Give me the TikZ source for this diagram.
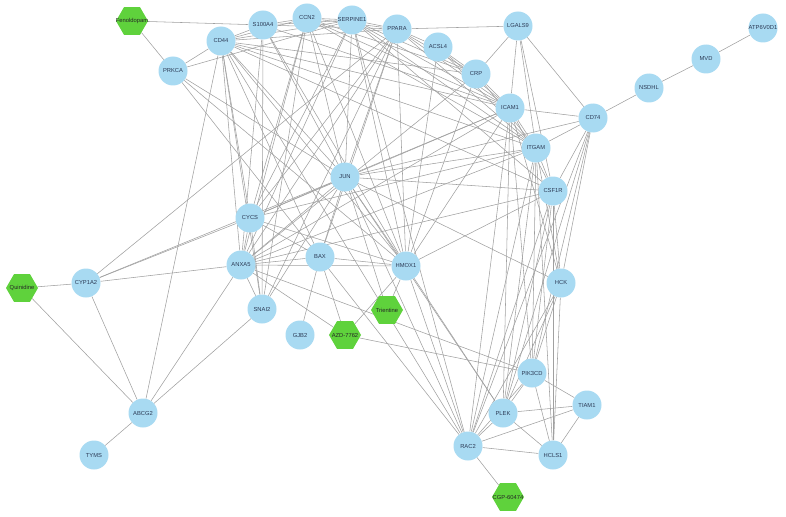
\documentclass[tikz,border=0pt]{standalone}
\usepackage{fontspec}
\setmainfont{Liberation Sans}
\usetikzlibrary{shapes.geometric}
\pgfdeclarelayer{bg}
\pgfsetlayers{bg,main}
\definecolor{genec}{HTML}{A8DAF2}
\definecolor{drugc}{HTML}{5FD23C}
\definecolor{edgec}{HTML}{A0A0A0}
\definecolor{lab}{HTML}{2C3A55}
\tikzset{
  lbl/.style={inner sep=0pt,font=\fontsize{5.8}{6}\selectfont},
  gene/.style={circle,fill=genec,minimum size=29pt,inner sep=0pt,label={[lbl,text=lab]center:#1}},
  drug/.style={regular polygon,regular polygon sides=6,fill=drugc,minimum size=32pt,inner sep=0pt,label={[lbl,text=black!85]center:#1}},
  link/.style={draw=edgec,line width=0.55pt}
}
\begin{document}
\begin{tikzpicture}[x=1pt,y=-1pt]
\useasboundingbox (0,0) rectangle (786,516);
\node[drug=Fenoldopam] (fen) at (132,21) {};
\node[gene=S100A4] (s100) at (263,25) {};
\node[gene=CCN2] (ccn2) at (307,18) {};
\node[gene=SERPINE1] (serp) at (352,20) {};
\node[gene=PPARA] (ppara) at (397,29) {};
\node[gene=ACSL4] (acsl4) at (438,47) {};
\node[gene=LGALS9] (lgals9) at (518,26) {};
\node[gene=CD44] (cd44) at (221,41) {};
\node[gene=PRKCA] (prkca) at (173,71) {};
\node[gene=CRP] (crp) at (476,74) {};
\node[gene=ICAM1] (icam1) at (510,108) {};
\node[gene=ITGAM] (itgam) at (536,148) {};
\node[gene=CD74] (cd74) at (593,118) {};
\node[gene=NSDHL] (nsdhl) at (649,88) {};
\node[gene=MVD] (mvd) at (706,59) {};
\node[gene=ATP6V0D1] (atp) at (763,28) {};
\node[gene=JUN] (jun) at (345,177) {};
\node[gene=CSF1R] (csf1r) at (553,191) {};
\node[gene=CYCS] (cycs) at (250,218) {};
\node[gene=ANXA5] (anxa5) at (241,265) {};
\node[gene=BAX] (bax) at (320,257) {};
\node[gene=HMOX1] (hmox1) at (406,266) {};
\node[gene=SNAI2] (snai2) at (262,309) {};
\node[drug=Trientine] (trien) at (387,310) {};
\node[drug=Quinidine] (quin) at (22,288) {};
\node[gene=CYP1A2] (cyp) at (86,283) {};
\node[gene=GJB2] (gjb2) at (300,335) {};
\node[drug=AZD-7762] (azd) at (345,335) {};
\node[gene=HCK] (hck) at (561,283) {};
\node[gene=PIK3CD] (pik) at (532,373) {};
\node[gene=TIAM1] (tiam) at (587,405) {};
\node[gene=PLEK] (plek) at (503,413) {};
\node[gene=HCLS1] (hcls) at (553,455) {};
\node[drug=CGP-60474] (cgp) at (508,497) {};
\node[gene=RAC2] (rac2) at (468,446) {};
\node[gene=ABCG2] (abcg2) at (143,413) {};
\node[gene=TYMS] (tyms) at (94,455) {};
\begin{pgfonlayer}{bg}
\foreach \a/\b in {fen/s100, fen/prkca,
prkca/cd44, prkca/serp, prkca/jun, prkca/hmox1, prkca/rac2,
cd44/s100, cd44/ccn2, cd44/serp, cd44/ppara, cd44/icam1, cd44/itgam, cd44/csf1r, cd44/jun, cd44/hmox1, cd44/anxa5, cd44/snai2, cd44/cycs, cd44/abcg2, cd44/bax, cd44/rac2, cd44/crp,
s100/ccn2, s100/snai2, s100/anxa5, s100/icam1, s100/jun, s100/hmox1, s100/ppara, s100/serp,
ccn2/serp, ccn2/ppara, ccn2/icam1, ccn2/jun, ccn2/hmox1, ccn2/anxa5, ccn2/cycs, ccn2/itgam, ccn2/crp, ccn2/snai2,
serp/ppara, serp/icam1, serp/crp, serp/jun, serp/hmox1, serp/csf1r, serp/anxa5, serp/itgam, serp/cycs, serp/rac2,
ppara/lgals9, ppara/acsl4, ppara/crp, ppara/icam1, ppara/jun, ppara/hmox1, ppara/cycs, ppara/anxa5, ppara/itgam, ppara/bax, ppara/cyp, ppara/snai2,
acsl4/icam1, acsl4/crp, acsl4/hmox1, acsl4/itgam,
crp/icam1, crp/lgals9, crp/hmox1, crp/itgam, crp/anxa5,
lgals9/icam1, lgals9/itgam, lgals9/cd74, lgals9/csf1r,
icam1/cd74, icam1/itgam, icam1/csf1r, icam1/jun, icam1/hmox1, icam1/cycs, icam1/anxa5, icam1/plek, icam1/rac2, icam1/hck, icam1/pik,
cd74/nsdhl, nsdhl/mvd, mvd/atp,
cd74/itgam, cd74/csf1r, cd74/hck, cd74/plek, cd74/rac2, cd74/pik, cd74/jun,
itgam/csf1r, itgam/jun, itgam/hck, itgam/plek, itgam/rac2, itgam/hcls, itgam/pik, itgam/anxa5, itgam/cycs,
csf1r/jun, csf1r/hck, csf1r/plek, csf1r/rac2, csf1r/pik, csf1r/hcls, csf1r/anxa5, csf1r/hmox1,
jun/cycs, jun/anxa5, jun/bax, jun/hmox1, jun/snai2, jun/hck, jun/rac2, jun/trien, jun/cyp, jun/plek,
hmox1/anxa5, hmox1/bax, hmox1/trien, hmox1/azd, hmox1/rac2, hmox1/plek, hmox1/cycs,
bax/anxa5, bax/gjb2, bax/azd, bax/cycs,
anxa5/cycs, anxa5/snai2, anxa5/cyp, anxa5/abcg2, anxa5/pik, anxa5/azd,
snai2/abcg2, snai2/cycs,
quin/cyp, quin/abcg2, cyp/abcg2, cyp/cycs, abcg2/tyms,
azd/pik,
pik/hck, pik/tiam, pik/plek, pik/rac2, pik/hcls,
hck/plek, hck/rac2, hck/hcls,
plek/rac2, plek/tiam, plek/hcls,
tiam/rac2, tiam/hcls,
hcls/rac2, rac2/cgp}
  \draw[link] (\a) -- (\b);
\end{pgfonlayer}
\end{tikzpicture}
\end{document}
